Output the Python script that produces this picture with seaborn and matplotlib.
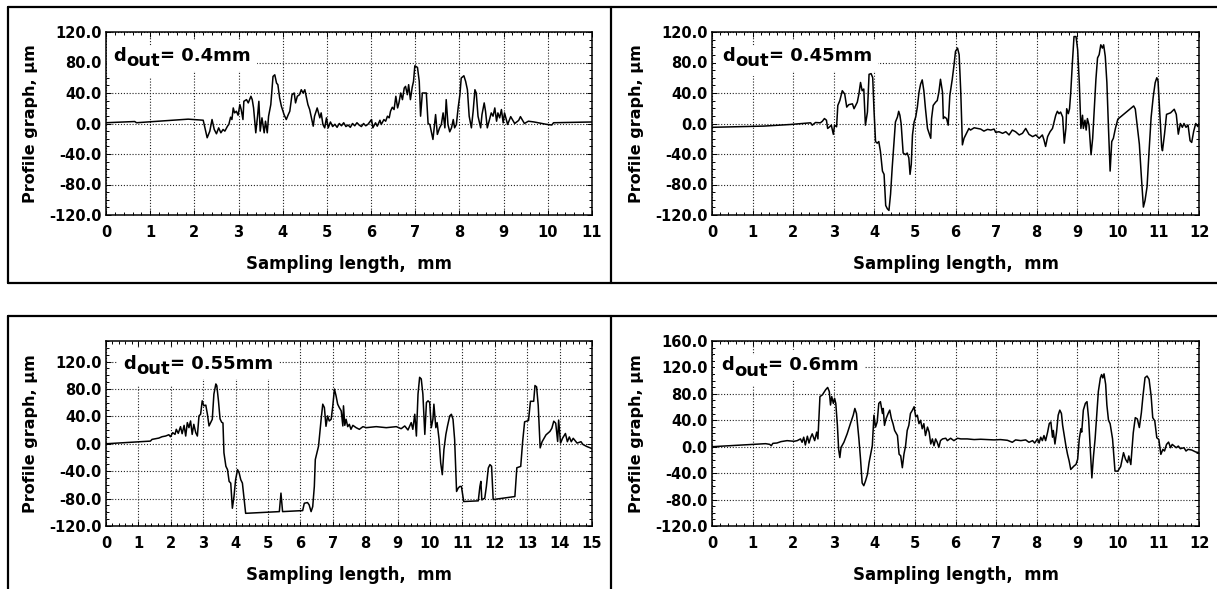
import pandas as pd
import matplotlib
matplotlib.use("Agg")
import matplotlib.pyplot as plt
import seaborn as sns
from matplotlib.lines import Line2D
from matplotlib.ticker import FuncFormatter, AutoMinorLocator

# ---- profile data ----
# d_out = 0.4 mm
p1_x = [0.00, 0.65, 0.69, 1.86, 2.20, 2.24, 2.29, 2.35, 2.40, 2.45,
        2.50, 2.55, 2.60, 2.65, 2.69, 2.75, 2.78, 2.82, 2.85, 2.88,
        2.91, 2.95, 2.99, 3.03, 3.06, 3.10, 3.12, 3.18, 3.22, 3.28,
        3.31, 3.34, 3.39, 3.43, 3.46, 3.49, 3.53, 3.58, 3.61, 3.65,
        3.68, 3.73, 3.78, 3.82, 3.86, 3.89, 3.93, 3.97, 4.03, 4.08,
        4.12, 4.16, 4.21, 4.26, 4.29, 4.33, 4.38, 4.42, 4.46, 4.50,
        4.54, 4.57, 4.61, 4.65, 4.69, 4.72, 4.78, 4.84, 4.87, 4.91,
        4.95, 4.99, 5.03, 5.08, 5.13, 5.18, 5.23, 5.28, 5.33, 5.38,
        5.43, 5.48, 5.53, 5.58, 5.63, 5.68, 5.73, 5.78, 5.83, 5.88,
        5.93, 5.97, 6.01, 6.04, 6.10, 6.14, 6.20, 6.23, 6.29, 6.33,
        6.37, 6.41, 6.44, 6.48, 6.52, 6.56, 6.60, 6.63, 6.67, 6.71,
        6.75, 6.78, 6.82, 6.85, 6.89, 6.93, 6.96, 6.99, 7.05, 7.09,
        7.12, 7.16, 7.25, 7.29, 7.33, 7.36, 7.40, 7.46, 7.50, 7.55,
        7.59, 7.63, 7.67, 7.70, 7.74, 7.78, 7.82, 7.86, 7.89, 7.93,
        7.97, 8.01, 8.04, 8.10, 8.14, 8.18, 8.22, 8.27, 8.31, 8.35,
        8.38, 8.42, 8.48, 8.51, 8.56, 8.59, 8.63, 8.69, 8.72, 8.76,
        8.80, 8.84, 8.87, 8.91, 8.95, 8.99, 9.02, 9.09, 9.16, 9.25,
        9.34, 9.38, 9.47, 9.56, 9.69, 9.96, 10.09, 10.13, 11.00]
p1_y = [1.0, 2.6, 1.0, 5.7, 4.3, -5.7, -18.7, -10.0, 5.2, -7.8,
        -13.5, -5.7, -12.2, -7.8, -10.0, -3.5, -1.3, 8.3, 5.2, 20.4,
        13.9, 16.1, 10.9, 24.8, 18.3, 5.2, 29.1, 31.3, 27.0, 35.7,
        31.3, 20.4, -12.2, 9.6, 29.1, -10.0, 7.4, -12.2, 3.0, -12.2,
        9.6, 24.8, 61.7, 63.9, 53.0, 50.9, 33.5, 22.6, 11.7, 5.2,
        10.9, 16.1, 37.8, 40.0, 27.0, 35.7, 37.8, 44.3, 40.0, 44.3,
        33.5, 24.8, 18.3, 7.4, -3.5, 9.6, 20.4, 7.4, 13.9, -1.3,
        -5.7, 7.4, -5.7, 2.0, -4.0, -1.0, -5.0, 0.0, -3.0, 1.0,
        -4.0, -2.0, -5.0, 0.0, -3.0, 1.0, -2.0, -4.0, 0.0, -3.0,
        -1.0, 2.0, 5.2, -5.7, 0.9, -3.5, 4.3, -1.3, 5.2, 3.0,
        9.6, 7.4, 16.1, 21.3, 18.3, 35.7, 20.4, 27.0, 40.0, 31.3,
        46.5, 48.7, 37.8, 50.9, 31.3, 47.4, 55.2, 75.7, 73.5, 55.2,
        9.6, 40.0, 40.0, 0.0, -1.3, -10.0, -20.9, 11.7, -14.3, -5.7,
        -1.3, 13.9, -5.7, 31.3, -1.3, -10.9, -5.7, 5.2, -5.7, -1.3,
        20.4, 37.8, 59.6, 62.6, 55.2, 44.3, 9.6, -5.7, 16.1, 44.3,
        40.0, 9.6, -5.7, 11.7, 27.0, 16.1, -5.7, 7.4, 13.9, 9.6,
        20.4, 3.0, 13.9, 7.4, 18.3, 0.9, 13.9, -1.3, 9.0, 0.0,
        4.0, 9.0, 0.0, 3.0, 2.0, -1.0, -2.0, 1.0, 2.0]

# d_out = 0.45 mm
p2_x = [0.00, 1.28, 1.93, 2.43, 2.47, 2.55, 2.67, 2.72, 2.77, 2.82,
        2.85, 2.90, 2.94, 2.99, 3.02, 3.07, 3.10, 3.15, 3.21, 3.27,
        3.32, 3.37, 3.46, 3.50, 3.54, 3.58, 3.62, 3.66, 3.70, 3.74,
        3.78, 3.83, 3.87, 3.92, 3.96, 3.99, 4.03, 4.07, 4.11, 4.15,
        4.20, 4.24, 4.28, 4.32, 4.36, 4.40, 4.44, 4.48, 4.52, 4.57,
        4.60, 4.63, 4.66, 4.71, 4.77, 4.81, 4.85, 4.88, 4.91, 4.94,
        4.98, 5.02, 5.06, 5.10, 5.14, 5.18, 5.22, 5.26, 5.31, 5.35,
        5.39, 5.41, 5.45, 5.51, 5.55, 5.59, 5.63, 5.68, 5.70, 5.73,
        5.78, 5.82, 5.86, 5.92, 5.96, 6.00, 6.05, 6.09, 6.13, 6.17,
        6.21, 6.25, 6.29, 6.33, 6.37, 6.46, 6.54, 6.62, 6.70, 6.79,
        6.87, 6.95, 6.99, 7.07, 7.16, 7.24, 7.32, 7.40, 7.48, 7.57,
        7.65, 7.73, 7.81, 7.90, 7.98, 8.06, 8.14, 8.18, 8.22, 8.27,
        8.33, 8.39, 8.43, 8.47, 8.51, 8.55, 8.59, 8.64, 8.68, 8.72,
        8.74, 8.78, 8.81, 8.84, 8.88, 8.92, 8.97, 9.01, 9.05, 9.09,
        9.13, 9.15, 9.19, 9.22, 9.25, 9.29, 9.34, 9.38, 9.42, 9.46,
        9.50, 9.54, 9.58, 9.62, 9.65, 9.69, 9.73, 9.77, 9.81, 9.85,
        9.89, 9.94, 10.00, 10.39, 10.43, 10.53, 10.58, 10.63, 10.67, 10.72,
        10.77, 10.82, 10.87, 10.92, 10.96, 10.99, 11.03, 11.08, 11.10, 11.15,
        11.20, 11.30, 11.39, 11.44, 11.49, 11.54, 11.59, 11.63, 11.68, 11.73,
        11.78, 11.82, 11.87, 11.92, 11.97, 12.00]
p2_y = [-5.0, -3.4, -1.3, 0.9, -2.2, 1.3, 0.9, 3.0, 6.5, 4.3,
        -6.5, -4.3, -2.2, -14.2, -2.2, -4.3, 23.7, 30.1, 43.0, 38.7,
        21.5, 24.7, 25.8, 19.4, 23.7, 28.0, 38.7, 53.8, 43.0, 45.2,
        -2.2, 15.0, 64.5, 65.4, 60.2, 19.4, -23.7, -25.8, -23.7, -36.6,
        -62.4, -66.7, -107.5, -111.8, -114.0, -92.5, -58.0, -28.0, 2.0, 8.6,
        16.0, 10.8, 0.0, -38.7, -40.9, -38.7, -45.0, -66.7, -53.8, -15.0,
        2.0, 8.6, 21.5, 40.9, 51.6, 57.2, 43.0, 19.4, -6.5, -12.9,
        -19.4, 6.5, 23.7, 28.0, 30.1, 40.9, 58.0, 40.9, 6.5, 8.6,
        6.5, -2.2, 36.6, 58.0, 75.3, 94.6, 98.9, 90.3, 40.9, -28.0,
        -19.4, -15.0, -10.8, -6.5, -8.6, -5.6, -6.5, -7.3, -10.0, -7.7,
        -8.6, -7.3, -11.6, -10.8, -12.9, -10.8, -15.0, -8.6, -10.8, -15.0,
        -12.9, -6.5, -14.2, -17.2, -15.0, -19.4, -15.0, -21.5, -30.1, -17.2,
        -10.8, -6.5, 2.2, 10.8, 16.0, 12.9, 15.0, 8.6, -25.8, -6.5,
        19.4, 12.9, 19.4, 40.9, 79.6, 114.0, 114.0, 96.8, 53.8, -6.5,
        10.8, -6.5, 4.3, -8.6, 6.5, -2.2, -40.9, -19.4, 19.4, 58.0,
        86.0, 90.3, 103.2, 98.9, 103.2, 88.2, 53.8, -6.5, -62.4, -23.7,
        -19.4, -6.5, 5.7, 23.0, 19.0, -27.0, -70.0, -109.6, -101.0, -83.0,
        -36.0, 8.0, 34.0, 53.5, 60.0, 56.0, 16.5, -31.0, -35.7, -14.0,
        12.0, 14.0, 18.7, 12.0, -14.0, 0.0, -5.0, 0.0, -5.0, -2.0,
        -22.6, -24.8, -10.0, 0.0, -4.0, 0.0]

# d_out = 0.55 mm
p3_x = [0.00, 1.37, 1.42, 1.53, 1.63, 1.73, 1.84, 1.94, 1.99, 2.06,
        2.13, 2.17, 2.23, 2.30, 2.35, 2.41, 2.46, 2.51, 2.56, 2.61,
        2.66, 2.71, 2.77, 2.82, 2.87, 2.92, 2.97, 3.02, 3.08, 3.13,
        3.18, 3.23, 3.28, 3.33, 3.39, 3.42, 3.47, 3.52, 3.57, 3.61,
        3.64, 3.70, 3.75, 3.80, 3.85, 3.90, 3.95, 4.00, 4.06, 4.11,
        4.16, 4.21, 4.26, 4.31, 5.35, 5.40, 5.45, 6.07, 6.12, 6.22,
        6.27, 6.33, 6.38, 6.43, 6.46, 6.51, 6.56, 6.64, 6.69, 6.74,
        6.79, 6.84, 6.89, 6.95, 7.00, 7.05, 7.10, 7.15, 7.20, 7.26,
        7.31, 7.33, 7.37, 7.41, 7.46, 7.51, 7.56, 7.62, 7.72, 7.82,
        7.93, 8.03, 8.34, 8.65, 8.96, 9.11, 9.22, 9.32, 9.42, 9.47,
        9.53, 9.58, 9.63, 9.68, 9.73, 9.78, 9.84, 9.89, 9.94, 9.99,
        10.04, 10.09, 10.12, 10.18, 10.22, 10.28, 10.33, 10.38, 10.43, 10.49,
        10.54, 10.61, 10.66, 10.71, 10.76, 10.82, 10.87, 10.92, 10.97, 11.04,
        11.49, 11.54, 11.57, 11.60, 11.69, 11.74, 11.80, 11.85, 11.90, 11.95,
        12.62, 12.68, 12.80, 12.86, 12.92, 13.04, 13.10, 13.20, 13.24, 13.29,
        13.34, 13.40, 13.46, 13.58, 13.70, 13.76, 13.82, 13.88, 13.94, 13.97,
        14.03, 14.09, 14.18, 14.24, 14.30, 14.36, 14.42, 14.54, 14.66, 14.72,
        14.84, 15.00]
p3_y = [0.0, 3.9, 6.4, 7.4, 8.3, 10.3, 11.3, 13.2, 10.3, 16.2,
        13.7, 21.1, 15.2, 25.0, 14.7, 26.9, 11.3, 30.9, 23.5, 33.3,
        13.7, 28.4, 16.2, 11.3, 40.7, 43.1, 62.7, 55.4, 56.4, 43.1,
        26.0, 30.9, 35.8, 72.5, 87.3, 84.8, 63.2, 36.3, 31.4, 30.4,
        -13.2, -32.8, -37.7, -54.9, -57.4, -94.1, -77.0, -52.5, -37.7, -42.6,
        -52.5, -57.4, -79.4, -101.5, -99.0, -72.0, -99.0, -97.5, -86.8, -85.8,
        -89.2, -99.0, -91.7, -62.3, -23.0, -13.2, -3.4, 35.8, 57.8, 52.9,
        25.5, 40.7, 33.3, 35.8, 55.4, 79.9, 70.1, 57.8, 52.9, 48.0,
        26.0, 55.4, 26.9, 35.8, 25.0, 28.4, 21.1, 26.9, 23.5, 21.1,
        25.0, 23.5, 25.0, 23.5, 25.0, 22.0, 26.0, 20.1, 30.9, 21.1,
        43.1, 11.3, 72.5, 97.0, 94.6, 72.5, 13.7, 60.3, 62.7, 60.3,
        23.5, 35.8, 57.8, 23.5, 30.9, 6.4, -28.0, -45.1, -8.3, 13.7,
        25.9, 40.7, 43.1, 35.8, 6.4, -69.6, -64.7, -62.3, -62.3, -84.3,
        -83.3, -62.3, -54.9, -81.9, -79.4, -62.3, -35.3, -30.4, -32.8, -81.4,
        -77.0, -35.0, -33.0, 3.4, 32.0, 34.0, 62.0, 62.0, 85.0, 83.0,
        56.0, -6.0, 3.0, 13.0, 18.0, 22.6, 33.0, 30.0, 3.4, 34.6,
        1.0, 8.0, 15.0, 3.0, 10.0, 3.0, 8.0, 1.0, 3.0, -1.0,
        -4.0, -7.0]

# d_out = 0.6 mm
p4_x = [0.00, 1.32, 1.42, 1.46, 1.50, 1.60, 1.70, 1.85, 1.93, 2.02,
        2.10, 2.18, 2.22, 2.26, 2.30, 2.35, 2.39, 2.43, 2.47, 2.53,
        2.58, 2.61, 2.66, 2.72, 2.80, 2.85, 2.89, 2.92, 2.95, 2.99,
        3.02, 3.05, 3.09, 3.12, 3.15, 3.18, 3.25, 3.33, 3.41, 3.48,
        3.52, 3.56, 3.62, 3.66, 3.70, 3.74, 3.78, 3.83, 3.87, 3.91,
        3.95, 3.99, 4.03, 4.07, 4.11, 4.15, 4.20, 4.22, 4.25, 4.29,
        4.34, 4.38, 4.42, 4.46, 4.50, 4.57, 4.61, 4.65, 4.69, 4.73,
        4.77, 4.81, 4.85, 4.89, 4.94, 4.98, 5.02, 5.06, 5.10, 5.14,
        5.18, 5.22, 5.26, 5.31, 5.35, 5.39, 5.43, 5.47, 5.51, 5.55,
        5.59, 5.63, 5.68, 5.76, 5.80, 5.88, 5.96, 6.05, 6.13, 6.29,
        6.46, 6.62, 6.79, 6.95, 7.11, 7.28, 7.40, 7.48, 7.61, 7.73,
        7.81, 7.90, 7.95, 8.02, 8.06, 8.10, 8.14, 8.18, 8.22, 8.27,
        8.31, 8.35, 8.39, 8.41, 8.45, 8.49, 8.53, 8.57, 8.61, 8.64,
        8.68, 8.72, 8.76, 8.80, 8.84, 8.88, 8.92, 8.97, 9.01, 9.05,
        9.09, 9.11, 9.15, 9.20, 9.24, 9.28, 9.32, 9.36, 9.40, 9.44,
        9.48, 9.52, 9.57, 9.60, 9.63, 9.66, 9.70, 9.73, 9.77, 9.81,
        9.87, 9.93, 10.00, 10.07, 10.14, 10.19, 10.24, 10.27, 10.32, 10.38,
        10.43, 10.48, 10.53, 10.58, 10.62, 10.67, 10.72, 10.77, 10.82, 10.86,
        10.91, 10.96, 11.01, 11.06, 11.11, 11.15, 11.20, 11.25, 11.30, 11.34,
        11.44, 11.49, 11.54, 11.63, 11.68, 11.73, 11.82, 11.92, 12.00]
p4_y = [0.0, 4.6, 3.6, 1.5, 5.1, 5.6, 7.7, 9.2, 8.7, 8.2,
        9.2, 11.8, 6.7, 14.4, 2.6, 15.9, 5.6, 13.8, 19.5, 9.2,
        22.1, 11.8, 75.9, 78.5, 86.2, 89.7, 83.6, 63.1, 75.9, 65.6,
        73.3, 65.6, 32.3, -3.6, -16.4, -1.0, 6.7, 19.5, 34.9, 47.7,
        57.9, 50.3, 11.8, -19.0, -54.9, -59.0, -52.3, -42.0, -24.1, -11.3,
        1.5, 47.7, 29.7, 37.4, 65.6, 68.2, 50.3, 57.9, 32.3, 42.6,
        50.3, 55.4, 42.6, 34.9, 24.6, 16.9, -11.3, -13.8, -31.8, -11.3,
        1.5, 24.6, 32.3, 50.3, 55.4, 60.5, 45.1, 47.7, 34.9, 40.0,
        27.2, 34.9, 16.9, 29.7, 22.1, 4.1, 11.8, 1.5, 11.8, 6.7,
        -1.0, 9.2, 11.8, 12.8, 9.2, 12.8, 9.2, 12.8, 11.8, 11.8,
        10.8, 11.3, 10.8, 10.3, 10.8, 9.7, 6.7, 10.3, 9.2, 10.3,
        6.7, 9.2, 5.6, 11.8, 5.6, 14.4, 9.2, 16.9, 9.2, 22.1,
        34.9, 37.4, 14.4, 24.6, 4.1, 22.1, 47.7, 55.4, 50.3, 32.3,
        16.9, 1.5, -11.3, -21.5, -34.4, -31.8, -29.2, -26.7, -19.0, 11.8,
        27.2, 22.1, 55.4, 65.6, 68.2, 42.6, -3.6, -47.2, -14.4, 11.8,
        47.7, 83.6, 104.1, 109.2, 104.1, 110.3, 94.4, 63.1, 40.0, 34.9,
        11.8, -36.9, -37.0, -30.0, -9.0, -19.0, -24.0, -14.0, -27.0, 21.0,
        44.0, 42.0, 29.0, 51.5, 77.0, 104.5, 107.0, 102.0, 77.0, 44.0,
        39.0, 13.6, 11.0, -11.6, -4.0, -6.5, 3.5, 7.0, -1.5, 3.5,
        -1.5, 1.0, -3.0, -1.5, -6.5, -4.0, -5.0, -8.0, -9.0]

labels = ["0.4mm", "0.45mm", "0.55mm", "0.6mm"]
x_max = [11, 12, 15, 12]
y_ticks_a = [-120, -80, -40, 0, 40, 80, 120]
y_ticks_b = [-120, -80, -40, 0, 40, 80, 120, 160]

sns.set_style("ticks")
plt.rcParams["font.family"] = ["DejaVu Sans"]
plt.rcParams["font.weight"] = "bold"
plt.rcParams["text.color"] = "black"
plt.rcParams["axes.labelcolor"] = "black"
plt.rcParams["xtick.color"] = "black"
plt.rcParams["ytick.color"] = "black"

W, H = 1217, 589
fig = plt.figure(figsize=(W / 100, H / 100), dpi=100)


def add_ax(left, top, right, bottom):
    return fig.add_axes([left / W, 1 - bottom / H, (right - left) / W, (bottom - top) / H])


def dout_label(ax, x, y, value):
    pieces = [("d", 0, 0), ("out", 9.3, -4), ("= " + value, 33.5, 0)]
    base = dict(xycoords="axes fraction", textcoords="offset points", fontsize=13,
                fontweight="bold", ha="left", va="baseline")
    # white patches first, then the text on top of all of them
    for s, dx, dy in pieces:
        ax.annotate(s, xy=(x, y), xytext=(dx, dy), color=(0, 0, 0, 0), zorder=4,
                    bbox=dict(facecolor="white", edgecolor="none", pad=4.5), **base)
    for s, dx, dy in pieces:
        ax.annotate(s, xy=(x, y), xytext=(dx, dy), color="black", zorder=5, **base)


boxes = [(106, 32, 592, 215), (712, 32, 1199, 215),
         (106, 341, 592, 526), (712, 341, 1199, 526)]
ylims = [(-120, 120), (-120, 120), (-120, 150), (-120, 160)]
yticks = [y_ticks_a, y_ticks_a, y_ticks_a, y_ticks_b]
text_pos = [(0.0145, 0.843), (0.0206, 0.844), (0.035, 0.849), (0.0185, 0.843)]
series = [(p1_x, p1_y), (p2_x, p2_y), (p3_x, p3_y), (p4_x, p4_y)]

for i in range(4):
    ax = add_ax(*boxes[i])
    df = pd.DataFrame({"x": series[i][0], "y": series[i][1]})
    sns.lineplot(data=df, x="x", y="y", ax=ax, color="black", linewidth=1.1,
                 sort=False, estimator=None, zorder=6)
    ax.set_xlim(0, x_max[i])
    ax.set_ylim(*ylims[i])
    ax.set_xticks(range(x_max[i] + 1))
    ax.set_yticks(yticks[i])
    ax.yaxis.set_major_formatter(FuncFormatter(lambda v, p: f"{v:.1f}"))
    ax.xaxis.set_minor_locator(AutoMinorLocator(5))
    ax.yaxis.set_minor_locator(AutoMinorLocator(4))
    ax.grid(True, which="major", color="#222222", linestyle=(0, (1, 1.6)), linewidth=0.8)
    ax.tick_params(which="both", direction="in", top=True, right=True, width=0.7)
    ax.tick_params(which="major", length=3.5, labelsize=10.5)
    ax.tick_params(which="minor", length=2)
    ax.tick_params(axis="x", pad=7)
    ax.tick_params(axis="y", pad=3)
    for lab in ax.get_xticklabels() + ax.get_yticklabels():
        lab.set_fontweight("bold")
    for sp in ax.spines.values():
        sp.set_color("black")
        sp.set_linewidth(1.1)
    ax.set_xlabel("Sampling length,  mm", fontsize=12, fontweight="bold", labelpad=11)
    ax.set_ylabel("Profile graph, µm", fontsize=11.5, fontweight="bold", labelpad=8)
    dout_label(ax, text_pos[i][0], text_pos[i][1], labels[i])

# panel frames
frame_kw = dict(color="black", linewidth=1.6, transform=fig.transFigure)
segments = [((7.8, 1217), (7.4, 7.4)), ((7.8, 1217), (283, 283)), ((7.8, 1217), (316, 316)),
            ((7.8, 7.8), (7.4, 283)), ((7.8, 7.8), (316, 589)),
            ((611, 611), (7.4, 283)), ((611, 611), (316, 589))]
for xs, ys in segments:
    fig.add_artist(Line2D([x / W for x in xs], [1 - y / H for y in ys], **frame_kw))

fig.savefig("out.png", dpi=100)
